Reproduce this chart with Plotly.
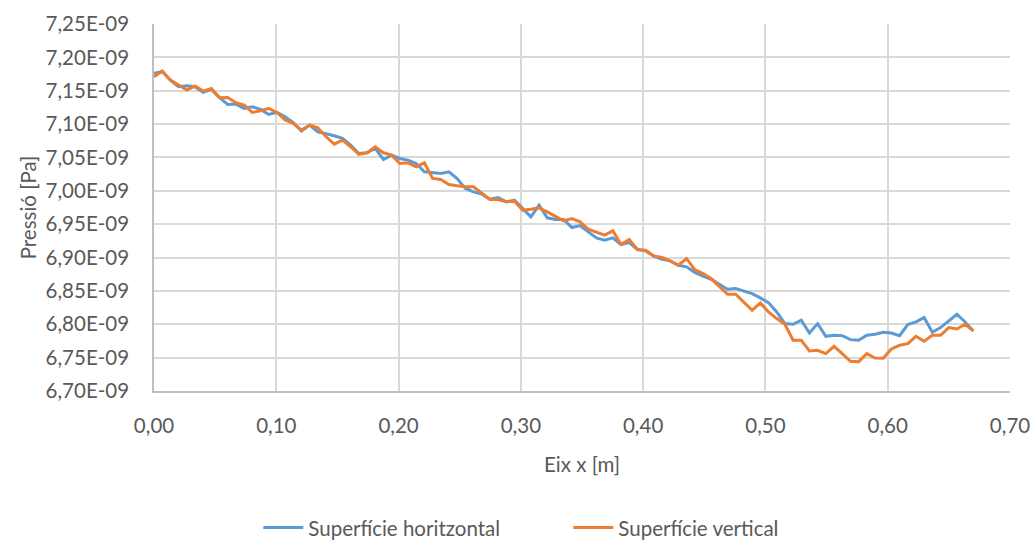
import plotly.graph_objects as go

# Position along the surface [m]
eix_x = [
    0.0000, 0.0067, 0.0134, 0.0201, 0.0268, 0.0335, 0.0402, 0.0469, 0.0536, 0.0603,
    0.0670, 0.0737, 0.0804, 0.0871, 0.0938, 0.1005, 0.1072, 0.1139, 0.1206, 0.1273,
    0.1340, 0.1407, 0.1474, 0.1541, 0.1608, 0.1675, 0.1742, 0.1809, 0.1876, 0.1943,
    0.2010, 0.2077, 0.2144, 0.2211, 0.2278, 0.2345, 0.2412, 0.2479, 0.2546, 0.2613,
    0.2680, 0.2747, 0.2814, 0.2881, 0.2948, 0.3015, 0.3082, 0.3149, 0.3216, 0.3283,
    0.3350, 0.3417, 0.3484, 0.3551, 0.3618, 0.3685, 0.3752, 0.3819, 0.3886, 0.3953,
    0.4020, 0.4087, 0.4154, 0.4221, 0.4288, 0.4355, 0.4422, 0.4489, 0.4556, 0.4623,
    0.4690, 0.4757, 0.4824, 0.4891, 0.4958, 0.5025, 0.5092, 0.5159, 0.5226, 0.5293,
    0.5360, 0.5427, 0.5494, 0.5561, 0.5628, 0.5695, 0.5762, 0.5829, 0.5896, 0.5963,
    0.6030, 0.6097, 0.6164, 0.6231, 0.6298, 0.6365, 0.6432, 0.6499, 0.6566, 0.6633,
    0.6700,
]

# Pressure, in units of 1E-09 Pa
pressio_horitzontal = [
    7.176, 7.1785, 7.166, 7.156, 7.1575, 7.156, 7.1475, 7.152, 7.1395, 7.1295,
    7.130, 7.1235, 7.126, 7.122, 7.1145, 7.1175, 7.111, 7.102, 7.0895, 7.0985,
    7.0885, 7.086, 7.0825, 7.0785, 7.0685, 7.056, 7.057, 7.0635, 7.047, 7.0535,
    7.0485, 7.046, 7.041, 7.0285, 7.027, 7.026, 7.0285, 7.0185, 7.0035, 6.9985,
    6.995, 6.9875, 6.990, 6.9835, 6.986, 6.9735, 6.961, 6.9785, 6.9595, 6.957,
    6.957, 6.945, 6.948, 6.9385, 6.9295, 6.926, 6.9295, 6.9195, 6.9225, 6.912,
    6.910, 6.902, 6.8975, 6.895, 6.8885, 6.886, 6.8775, 6.872, 6.8675, 6.860,
    6.8525, 6.8535, 6.850, 6.846, 6.8395, 6.8325, 6.8185, 6.801, 6.800, 6.806,
    6.787, 6.801, 6.782, 6.7835, 6.783, 6.777, 6.776, 6.7835, 6.785, 6.788,
    6.787, 6.783, 6.7995, 6.8035, 6.810, 6.788, 6.795, 6.8045, 6.815, 6.8035,
    6.790,
]

pressio_vertical = [
    7.171, 7.1795, 7.166, 7.1585, 7.151, 7.157, 7.1495, 7.1535, 7.1395, 7.140,
    7.132, 7.1285, 7.1175, 7.120, 7.1235, 7.1175, 7.106, 7.101, 7.091, 7.0985,
    7.0945, 7.081, 7.070, 7.076, 7.066, 7.0545, 7.057, 7.066, 7.057, 7.0535,
    7.041, 7.042, 7.036, 7.042, 7.0185, 7.017, 7.0095, 7.0075, 7.006, 7.006,
    6.996, 6.987, 6.987, 6.9835, 6.9845, 6.971, 6.9725, 6.9745, 6.9685, 6.962,
    6.955, 6.9585, 6.9535, 6.9425, 6.9375, 6.9335, 6.940, 6.9195, 6.927, 6.912,
    6.911, 6.9025, 6.900, 6.895, 6.8885, 6.8985, 6.882, 6.876, 6.8685, 6.856,
    6.845, 6.845, 6.8335, 6.821, 6.832, 6.8185, 6.8085, 6.800, 6.776, 6.776,
    6.760, 6.761, 6.756, 6.767, 6.756, 6.7445, 6.744, 6.756, 6.7495, 6.749,
    6.763, 6.7685, 6.771, 6.782, 6.7745, 6.7835, 6.7835, 6.795, 6.793, 6.800,
    6.790,
]

series_names = ["Superfície horitzontal", "Superfície vertical"]
series_colors = ["#5B9BD5", "#ED7D31"]

y_ticks = [6.70, 6.75, 6.80, 6.85, 6.90, 6.95, 7.00, 7.05, 7.10, 7.15, 7.20, 7.25]
y_tick_text = [f"{v:.2f}".replace(".", ",") + "E-09" for v in y_ticks]
x_ticks = [0.0, 0.1, 0.2, 0.3, 0.4, 0.5, 0.6, 0.7]
x_tick_text = [f"{v:.2f}".replace(".", ",") for v in x_ticks]

SCALE = 1e-9
FONT = "Lato, 'Open Sans', sans-serif"
TEXT = "#595959"
GRID = "#D9D9D9"
FS = 20.5

fig = go.Figure()
for name, color, values in zip(series_names, series_colors,
                               [pressio_horitzontal, pressio_vertical]):
    fig.add_trace(go.Scatter(
        x=eix_x,
        y=[v * SCALE for v in values],
        mode="lines",
        name=name,
        line=dict(color=color, width=3),
    ))

fig.update_layout(
    width=1033,
    height=543,
    margin=dict(l=154, r=23, t=24, b=152, autoexpand=False),
    paper_bgcolor="white",
    plot_bgcolor="white",
    font=dict(family=FONT, size=FS, color=TEXT),
    showlegend=True,
    legend=dict(
        orientation="h",
        x=0.484, xanchor="center",
        yref="container",
        y=0.028, yanchor="middle",
        font=dict(family=FONT, size=FS, color=TEXT),
        itemwidth=40,
        entrywidth=255,
        traceorder="normal",
    ),
)

fig.update_xaxes(
    range=[0, 0.70],
    tickvals=x_ticks,
    ticktext=x_tick_text,
    showgrid=True, gridcolor=GRID, gridwidth=1.5,
    zeroline=False,
    showline=True, linecolor="#BFBFBF", linewidth=1.5,
    ticks="", ticklabelstandoff=16,
    tickfont=dict(family=FONT, size=FS, color=TEXT),
    title=dict(text="Eix x [m]", font=dict(family=FONT, size=FS, color=TEXT),
               standoff=21),
    automargin=False,
)

fig.update_yaxes(
    range=[6.70 * SCALE, 7.25 * SCALE],
    tickvals=[v * SCALE for v in y_ticks],
    ticktext=y_tick_text,
    showgrid=True, gridcolor=GRID, gridwidth=1.5,
    zeroline=False,
    showline=True, linecolor="#BFBFBF", linewidth=1.5,
    ticks="", ticklabelstandoff=19,
    tickfont=dict(family=FONT, size=FS, color=TEXT),
    title=dict(text="Pressió [Pa]", font=dict(family=FONT, size=FS, color=TEXT),
               standoff=3),
    automargin=False,
)

fig.write_html("out.html")
